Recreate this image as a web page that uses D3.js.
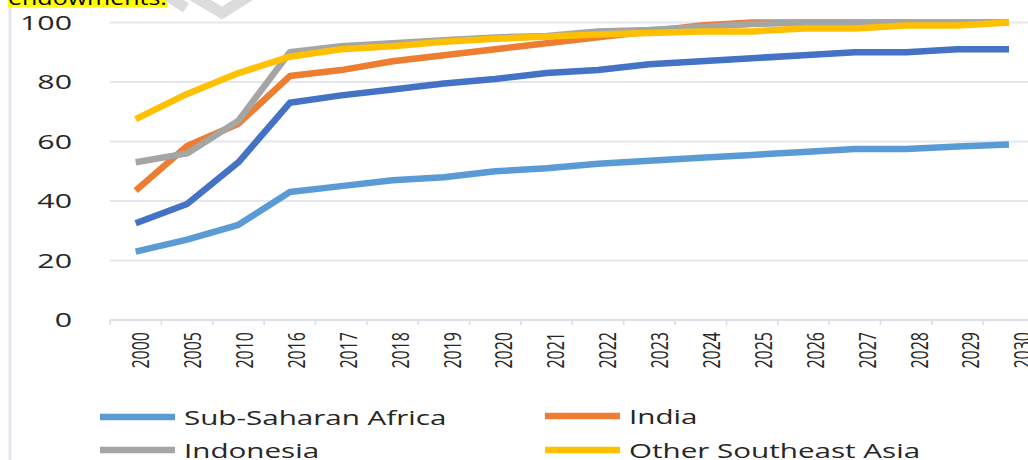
<!DOCTYPE html>
<html><head><meta charset="utf-8">
<script src="https://cdn.jsdelivr.net/npm/d3@7"></script>
<style>
html,body{margin:0;padding:0;background:#fff;}
svg{display:block;font-family:"Open Sans","Noto Sans",sans-serif;}
</style></head>
<body><svg id="c" width="1028" height="460"></svg>
<script>
const categories = ["2000","2005","2010","2016","2017","2018","2019","2020","2021","2022","2023","2024","2025","2026","2027","2028","2029","2030"];
const subSaharanAfrica = [23,27,32,43,45,47,48,50,51,52.5,53.5,54.5,55.5,56.5,57.5,57.5,58.3,59];
const india = [43.5,58.5,66,82,84,87,89,91,93,95,97,99,100,100,100,100,100,100];
const indonesia = [53,56,67,90,92,93,94,95,95.5,97,97.5,98.5,99.5,100,100,100,100,100];
const otherSEAsia = [67.5,76,83,88.5,91,92,93.5,94.5,95.3,96,96.5,97,97,98,98,99,99,100];
const darkBlueSeries = [32.5,39,53,73,75.5,77.5,79.5,81,83,84,86,87,88,89,90,90,91,91];
const yTicks = [0,20,40,60,80,100];
const legendNames = ["Sub-Saharan Africa","India","Indonesia","Other Southeast Asia"];

const colors = {ssa:"#5b9bd5", india:"#ed7d31", indo:"#a5a5a5", osea:"#ffc000", dark:"#4472c4"};
const SX = 1.48; // horizontal stretch of the original picture
const svg = d3.select("#c");

// frame line on left
svg.append("line").attr("x1",10).attr("x2",10).attr("y1",8).attr("y2",460)
  .attr("stroke","#e3e7ed").attr("stroke-width",3);

// top cropped caption + watermark
svg.append("rect").attr("x",8).attr("y",0).attr("width",159).attr("height",7.5).attr("fill","#ffff00");
svg.append("text").attr("transform",`translate(8,5) scale(1.25,1)`).attr("font-size",20)
  .attr("fill","#000").text("endowments.");
svg.append("path").attr("d","M168,-4 L186,8 M190,-6 L222,13 L252,-6")
  .attr("fill","none").attr("stroke","#dcdcdc").attr("stroke-width",11);

const x = d3.scaleBand().domain(categories).range([110, 110 + 18*51.37]).padding(0);
const xc = c => x(c) + x.bandwidth()/2;
const xl = d3.scalePoint().domain(categories).range([141, 1023]);
const y = d3.scaleLinear().domain([0,100]).range([320, 22.5]);

// gridlines
svg.append("g").selectAll("line").data(yTicks.filter(d=>d>0)).join("line")
  .attr("x1",110).attr("x2",1028).attr("y1",d=>y(d)).attr("y2",d=>y(d))
  .attr("stroke","#e4e8ee").attr("stroke-width",1.8);

// x axis line + ticks
svg.append("line").attr("x1",110).attr("x2",1028).attr("y1",y(0)).attr("y2",y(0))
  .attr("stroke","#dde1e7").attr("stroke-width",1.8);
svg.append("g").selectAll("line").data(categories).join("line")
  .attr("x1",d=>x(d)).attr("x2",d=>x(d)).attr("y1",y(0)).attr("y2",y(0)+5)
  .attr("stroke","#dde1e7").attr("stroke-width",1.8);

// y labels
svg.append("g").selectAll("text").data(yTicks).join("text")
  .attr("transform",d=>`translate(72,${y(d)+7}) scale(${SX},1)`)
  .attr("text-anchor","end").attr("font-size",20.5).attr("fill","#262626")
  .text(d=>d);

// x labels
svg.append("g").selectAll("text").data(categories).join("text")
  .attr("transform",d=>`translate(${xl(d)},332) scale(${SX},1) rotate(-90)`)
  .attr("text-anchor","end").attr("dy","0.35em").attr("font-size",16).attr("fill","#262626")
  .text(d=>d);

// lines
const line = d3.line().x((d,i)=>xc(categories[i])).y(d=>y(d));
const series = [
  {v:subSaharanAfrica,c:colors.ssa},
  {v:darkBlueSeries,c:colors.dark},
  {v:india,c:colors.india},
  {v:indonesia,c:colors.indo},
  {v:otherSEAsia,c:colors.osea}
];
svg.append("g").selectAll("path").data(series).join("path")
  .attr("d",d=>line(d.v)).attr("fill","none").attr("stroke",d=>d.c)
  .attr("stroke-width",6.5).attr("stroke-linejoin","round");

// legend
const legend = [
  {name:legendNames[0],c:colors.ssa,x:100,y:417},
  {name:legendNames[1],c:colors.india,x:545,y:416},
  {name:legendNames[2],c:colors.indo,x:100,y:450},
  {name:legendNames[3],c:colors.osea,x:545,y:450}
];
const lg = svg.append("g").selectAll("g").data(legend).join("g");
lg.append("line").attr("x1",d=>d.x).attr("x2",d=>d.x+75).attr("y1",d=>d.y).attr("y2",d=>d.y)
  .attr("stroke",d=>d.c).attr("stroke-width",6.5);
lg.append("text").attr("transform",d=>`translate(${d.x+84},${d.y+8}) scale(${SX},1)`)
  .attr("font-size",20).attr("fill","#262626").text(d=>d.name);
</script></body></html>
